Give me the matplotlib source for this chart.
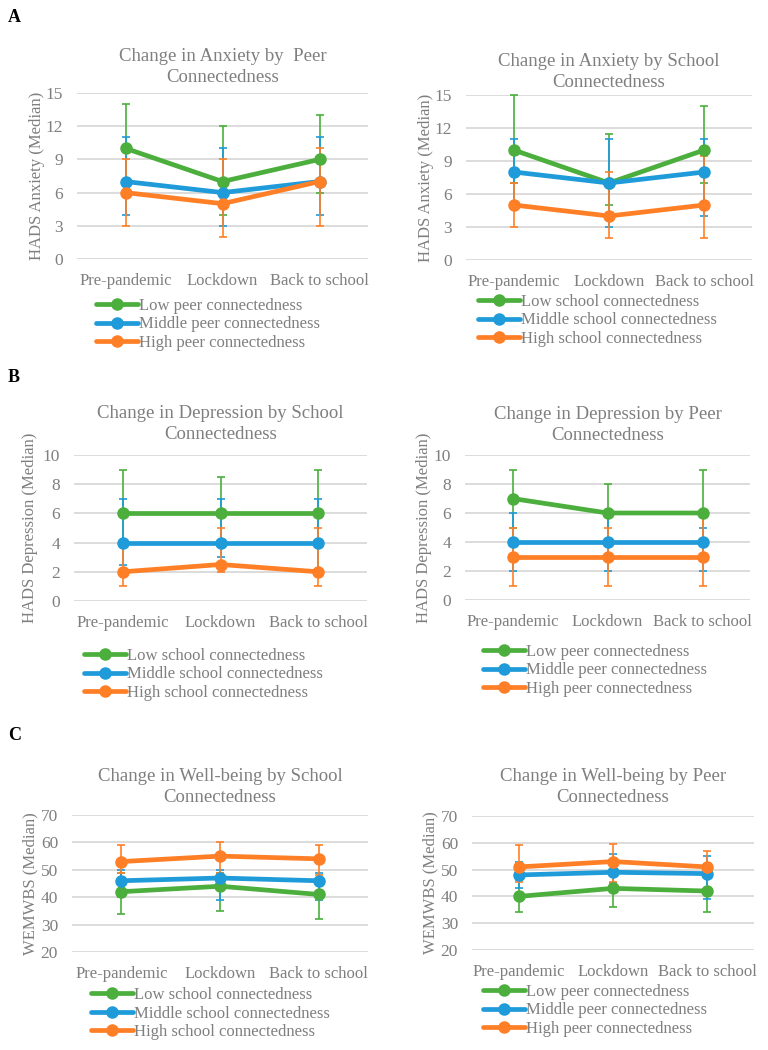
import matplotlib
matplotlib.use("Agg")
import matplotlib.pyplot as plt
import numpy as np

categories = ["Pre-pandemic", "Lockdown", "Back to school"]

# Panel A left: Anxiety by Peer connectedness (median, lower, upper)
anx_peer_low = [10, 7, 9];   anx_peer_low_lo = [7, 4, 6];   anx_peer_low_hi = [14, 12, 13]
anx_peer_mid = [7, 6, 7];    anx_peer_mid_lo = [4, 3, 4];   anx_peer_mid_hi = [11, 10, 11]
anx_peer_high = [6, 5, 7];   anx_peer_high_lo = [3, 2, 3];  anx_peer_high_hi = [9, 9, 10]

# Panel A right: Anxiety by School connectedness
anx_sch_low = [10, 7, 10];   anx_sch_low_lo = [7, 5, 7];    anx_sch_low_hi = [15, 11.5, 14]
anx_sch_mid = [8, 7, 8];     anx_sch_mid_lo = [5, 3, 4];    anx_sch_mid_hi = [11, 11, 11]
anx_sch_high = [5, 4, 5];    anx_sch_high_lo = [3, 2, 2];   anx_sch_high_hi = [7, 8, 9.5]

# Panel B left: Depression by School connectedness
dep_sch_low = [6, 6, 6];     dep_sch_low_lo = [4, 4, 4];    dep_sch_low_hi = [9, 8.5, 9]
dep_sch_mid = [4, 4, 4];     dep_sch_mid_lo = [2.5, 3, 2];  dep_sch_mid_hi = [7, 7, 7]
dep_sch_high = [2, 2.5, 2];  dep_sch_high_lo = [1, 2, 1];   dep_sch_high_hi = [4, 5, 5]

# Panel B right: Depression by Peer connectedness
dep_peer_low = [7, 6, 6];    dep_peer_low_lo = [5, 4, 4];   dep_peer_low_hi = [9, 8, 9]
dep_peer_mid = [4, 4, 4];    dep_peer_mid_lo = [2, 2, 2];   dep_peer_mid_hi = [6, 6, 5]
dep_peer_high = [3, 3, 3];   dep_peer_high_lo = [1, 1, 1];  dep_peer_high_hi = [5, 5, 6]

# Panel C left: Well-being by School connectedness
wb_sch_low = [42, 44, 41];   wb_sch_low_lo = [34, 35, 32];  wb_sch_low_hi = [49, 49, 46]
wb_sch_mid = [46, 47, 46];   wb_sch_mid_lo = [40, 39, 39];  wb_sch_mid_hi = [50, 50, 49]
wb_sch_high = [53, 55, 54];  wb_sch_high_lo = [49, 49, 48]; wb_sch_high_hi = [59, 60, 59]

# Panel C right: Well-being by Peer connectedness
wb_peer_low = [40, 43, 42];  wb_peer_low_lo = [34, 36, 34]; wb_peer_low_hi = [46, 49, 47]
wb_peer_mid = [48, 49, 48.5]; wb_peer_mid_lo = [43, 45, 39]; wb_peer_mid_hi = [53, 56, 55]
wb_peer_high = [51, 53, 51]; wb_peer_high_lo = [45.5, 45.5, 47]; wb_peer_high_hi = [59, 59.5, 57]

peer_labels = ["Low peer connectedness", "Middle peer connectedness", "High peer connectedness"]
school_labels = ["Low school connectedness", "Middle school connectedness", "High school connectedness"]

colors = ["#4CAF3D", "#1F9BDA", "#FF7F27"]
TEXT = "#7F7F7F"
GRID = "#D9D9D9"
FONT = ["Liberation Serif", "DejaVu Serif"]
plt.rcParams['font.family'] = FONT

W, H = 768, 1050
fig = plt.figure(figsize=(W / 100, H / 100), dpi=100)


def rect(x0, y0, x1, y1):
    return [x0 / W, 1 - y1 / H, (x1 - x0) / W, (y1 - y0) / H]


panels = [
    dict(box=(77, 93, 368, 259), title="Change in Anxiety by  Peer\nConnectedness", title_y=67,
         ylabel="HADS Anxiety (Median)", yticks=[0, 3, 6, 9, 12, 15], labels=peer_labels,
         series=[(anx_peer_low, anx_peer_low_lo, anx_peer_low_hi),
                 (anx_peer_mid, anx_peer_mid_lo, anx_peer_mid_hi),
                 (anx_peer_high, anx_peer_high_lo, anx_peer_high_hi)],
         leg=(96, 298), ylab_x=37),
    dict(box=(466, 95, 752, 260), title="Change in Anxiety by School\nConnectedness", title_y=72,
         ylabel="HADS Anxiety (Median)", yticks=[0, 3, 6, 9, 12, 15], labels=school_labels,
         series=[(anx_sch_low, anx_sch_low_lo, anx_sch_low_hi),
                 (anx_sch_mid, anx_sch_mid_lo, anx_sch_mid_hi),
                 (anx_sch_high, anx_sch_high_lo, anx_sch_high_hi)],
         leg=(478, 294), ylab_x=426),
    dict(box=(74, 455, 367, 601), title="Change in Depression by School\nConnectedness", title_y=424,
         ylabel="HADS Depression (Median)", yticks=[0, 2, 4, 6, 8, 10], labels=school_labels,
         series=[(dep_sch_low, dep_sch_low_lo, dep_sch_low_hi),
                 (dep_sch_mid, dep_sch_mid_lo, dep_sch_mid_hi),
                 (dep_sch_high, dep_sch_high_lo, dep_sch_high_hi)],
         leg=(84, 648), ylab_x=30),
    dict(box=(465, 455, 750, 600), title="Change in Depression by Peer\nConnectedness", title_y=425,
         ylabel="HADS Depression (Median)", yticks=[0, 2, 4, 6, 8, 10], labels=peer_labels,
         series=[(dep_peer_low, dep_peer_low_lo, dep_peer_low_hi),
                 (dep_peer_mid, dep_peer_mid_lo, dep_peer_mid_hi),
                 (dep_peer_high, dep_peer_high_lo, dep_peer_high_hi)],
         leg=(483, 644), ylab_x=424),
    dict(box=(72, 815, 368, 952), title="Change in Well-being by School\nConnectedness", title_y=787,
         ylabel="WEMWBS (Median)", yticks=[20, 30, 40, 50, 60, 70], labels=school_labels,
         series=[(wb_sch_low, wb_sch_low_lo, wb_sch_low_hi),
                 (wb_sch_mid, wb_sch_mid_lo, wb_sch_mid_hi),
                 (wb_sch_high, wb_sch_high_lo, wb_sch_high_hi)],
         leg=(91, 987), ylab_x=30),
    dict(box=(472, 816, 754, 950), title="Change in Well-being by Peer\nConnectedness", title_y=787,
         ylabel="WEMWBS (Median)", yticks=[20, 30, 40, 50, 60, 70], labels=peer_labels,
         series=[(wb_peer_low, wb_peer_low_lo, wb_peer_low_hi),
                 (wb_peer_mid, wb_peer_mid_lo, wb_peer_mid_hi),
                 (wb_peer_high, wb_peer_high_lo, wb_peer_high_hi)],
         leg=(483, 984), ylab_x=430),
]

x = np.arange(len(categories))
for p in panels:
    x0, y0, x1, y1 = p["box"]
    ax = fig.add_axes(rect(x0, y0, x1, y1))
    ax.set_xlim(-0.5, 2.5)
    ax.set_ylim(p["yticks"][0], p["yticks"][-1])
    ax.set_yticks(p["yticks"])
    ax.yaxis.grid(True, color=GRID, linewidth=1.3)
    ax.set_axisbelow(True)
    for s in ax.spines.values():
        s.set_visible(False)
    ax.tick_params(axis="both", length=0, colors=TEXT, labelsize=12)
    ax.tick_params(axis="x", pad=10)
    ax.tick_params(axis="y", pad=10, labelsize=12.5)
    ax.set_xticks(x)
    ax.set_xticklabels(categories)
    ax.set_facecolor("none")
    handles = []
    for (vals, lo, hi), c, lab in zip(p["series"], colors, p["labels"]):
        v = np.array(vals, dtype=float)
        yerr = [v - np.array(lo, dtype=float), np.array(hi, dtype=float) - v]
        ax.errorbar(x, v, yerr=yerr, fmt="none", ecolor=c, elinewidth=1.2,
                    capsize=3, capthick=1.2, zorder=2, clip_on=False)
        ln, = ax.plot(x, v, color=c, linewidth=3.4, marker="o", markersize=8,
                      solid_capstyle="round", zorder=3, label=lab, clip_on=False)
        handles.append(ln)
    fig.text((x0 + x1) / 2 / W, 1 - p["title_y"] / H, p["title"], ha="center", va="center",
             fontsize=13.5, color=TEXT, linespacing=1.35)
    fig.text(p["ylab_x"] / W, 1 - (y0 + y1) / 2 / H, p["ylabel"], rotation=90,
             ha="center", va="center", fontsize=12, color=TEXT)
    lx, ly = p["leg"]
    ax.legend(handles=handles, loc="upper left", bbox_to_anchor=(lx / W, 1 - ly / H),
              bbox_transform=fig.transFigure, frameon=False, fontsize=12,
              handlelength=2.5, handletextpad=0.1, labelspacing=0.15,
              borderpad=0, borderaxespad=0, labelcolor=TEXT)

fig.text(8 / W, 1 - 18 / H, "A", fontsize=13, fontweight="bold", color="black", va="center")
fig.text(8 / W, 1 - 378 / H, "B", fontsize=13, fontweight="bold", color="black", va="center")
fig.text(8 / W, 1 - 735 / H, "C", fontsize=13, fontweight="bold", color="black", va="center")

fig.savefig("out.png", dpi=100, facecolor="white")
